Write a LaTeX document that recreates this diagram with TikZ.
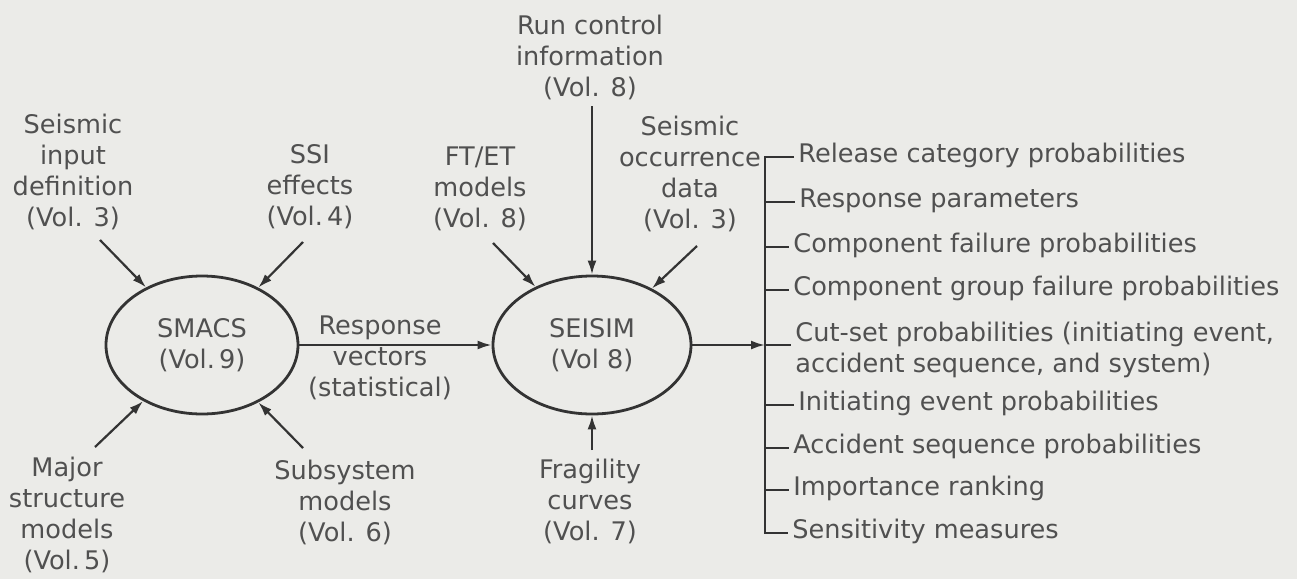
\documentclass[tikz,border=0pt]{standalone}
\usepackage{fontspec}
\setmainfont{DejaVu Sans}
\usetikzlibrary{arrows.meta,shapes.geometric}
\definecolor{paper}{HTML}{EBEBE8}
\definecolor{ink}{HTML}{333333}
\definecolor{print}{HTML}{505050}
\tikzset{
  lbl/.style={align=center, text=print, inner sep=0pt,
    font=\fontsize{12.8pt}{15.5pt}\selectfont},
  item/.style={anchor=west, text=print, inner xsep=2pt, inner ysep=0pt,
    align=left, font=\fontsize{12.8pt}{15.5pt}\selectfont},
  oneline/.style={text height=0.72em, text depth=0.22em},
  prog/.style={ellipse, draw=ink, line width=1.4pt, inner sep=0pt,
    align=center, text=print, font=\fontsize{12.8pt}{15.5pt}\selectfont},
  feed/.style={draw=ink, line width=1.1pt, -{Latex[length=7pt,width=4.5pt]}},
  rule/.style={draw=ink, line width=1.1pt}
}
\begin{document}
\begin{tikzpicture}[x=0.5pt,y=-0.5pt]
  \fill[paper] (0,0) rectangle (1297,579);
  \useasboundingbox (0,0) rectangle (1297,579);

  % the two programs (sizes in pt: half the pixel extent)
  \node[prog, minimum width=96pt, minimum height=69pt] (smacs) at (202,345) {SMACS\\(Vol.\,9)};
  \node[prog, minimum width=99pt, minimum height=69pt] (seisim) at (592,345) {SEISIM\\(Vol 8)};

  % inputs to SMACS
  \node[lbl] (sid) at (73,172) {Seismic\\input\\definition\\(Vol. 3)};
  \node[lbl] (ssi) at (310,187) {SSI\\effects\\(Vol.\,4)};
  \node[lbl] (mjr) at (67,515) {Major\\structure\\models\\(Vol.\,5)};
  \node[lbl] (sub) at (345,502) {Subsystem\\models\\(Vol. 6)};

  \coordinate (sidS) at (100,240);
  \coordinate (ssiS) at (303,242);
  \coordinate (mjrS) at (95,447);
  \coordinate (subS) at (303,448);
  \draw[feed] (sidS) -- (smacs);
  \draw[feed] (ssiS) -- (smacs);
  \draw[feed] (mjrS) -- (smacs);
  \draw[feed] (subS) -- (smacs);

  % SMACS to SEISIM
  \node[lbl] (rv) at (380,358) {Response\\vectors\\(statistical)};
  \draw[feed] (smacs.east) -- (seisim.west);

  % inputs to SEISIM
  \node[lbl] (run) at (590,57) {Run control\\information\\(Vol. 8)};
  \node[lbl] (ftet) at (480,189) {FT/ET\\models\\(Vol. 8)};
  \node[lbl] (occ) at (690,174) {Seismic\\occurrence\\data\\(Vol. 3)};
  \node[lbl] (frag) at (590,501) {Fragility\\curves\\(Vol. 7)};

  \coordinate (runS) at (592,106);
  \coordinate (ftetS) at (493,243);
  \coordinate (occS) at (697,246);
  \coordinate (fragS) at (592,450);
  \draw[feed] (runS) -- (seisim.north);
  \draw[feed] (ftetS) -- (seisim);
  \draw[feed] (occS) -- (seisim);
  \draw[feed] (fragS) -- (seisim.south);

  % outputs
  \node[item, oneline] (o1) at (794,157) {Release category probabilities};
  \node[item, oneline] (o2) at (795,202) {Response parameters};
  \node[item, oneline] (o3) at (789,247) {Component failure probabilities};
  \node[item, oneline] (o4) at (789,290) {Component group failure probabilities};
  \node[item] (o5) at (791,350) {Cut-set probabilities (initiating event,\\accident sequence, and system)};
  \node[item, oneline] (o6) at (794,405) {Initiating event probabilities};
  \node[item, oneline] (o7) at (789,448) {Accident sequence probabilities};
  \node[item, oneline] (o8) at (789,490) {Importance ranking};
  \node[item, oneline] (o9) at (788,533) {Sensitivity measures};

  \coordinate (bar) at (765,345);
  \draw[rule] (o1.west) -| (bar |- o9.west) -- (o9.west);
  \draw[rule] (o2.west -| bar) -- (o2.west);
  \draw[rule] (o3.west -| bar) -- (o3.west);
  \draw[rule] (o4.west -| bar) -- (o4.west);
  \draw[rule] (bar) -- (bar -| o5.west);
  \draw[rule] (o6.west -| bar) -- (o6.west);
  \draw[rule] (o7.west -| bar) -- (o7.west);
  \draw[rule] (o8.west -| bar) -- (o8.west);
  \draw[feed] (seisim.east) -- (bar);
\end{tikzpicture}
\end{document}
